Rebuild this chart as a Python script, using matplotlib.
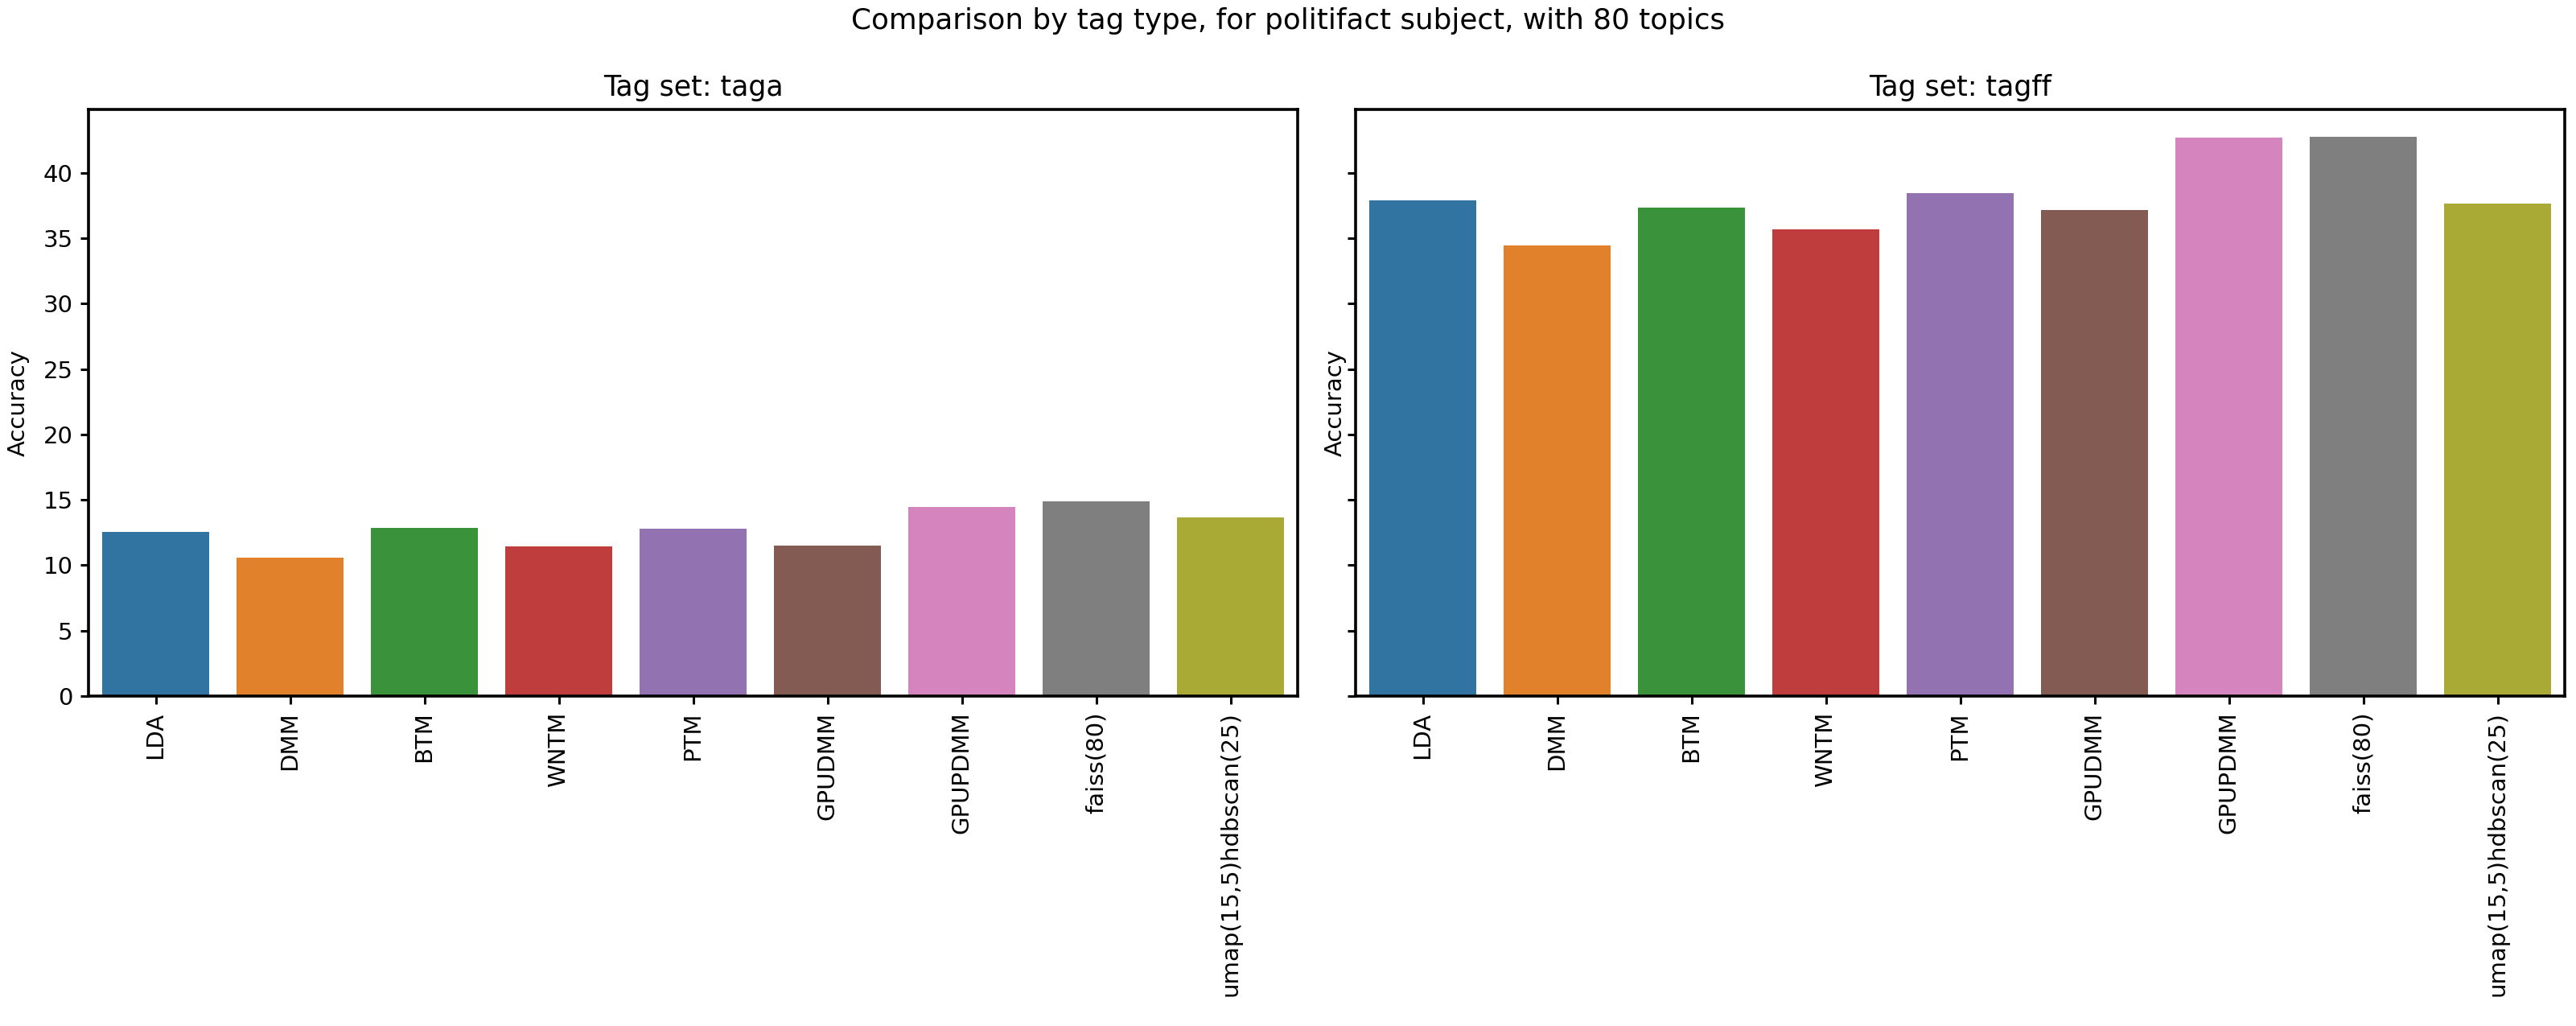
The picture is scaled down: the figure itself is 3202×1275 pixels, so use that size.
import matplotlib
matplotlib.use('Agg')
from matplotlib import pyplot as plt
import numpy as np

models = ['LDA', 'DMM', 'BTM', 'WNTM', 'PTM', 'GPUDMM', 'GPUPDMM', 'faiss(80)',
          'umap(15,5)hdbscan(25)']
acc_taga = [12.55, 10.6, 12.86, 11.45, 12.8, 11.5, 14.43, 14.86, 13.66]
acc_tagff = [37.9, 34.47, 37.35, 35.7, 38.43, 37.17, 42.66, 42.72, 37.66]
tagsets = ['taga', 'tagff']

# seaborn-style desaturated tab10
colors = ['#3274a1', '#e1812c', '#3a923a', '#c03d3e', '#9372b2',
          '#845b53', '#d684bd', '#7f7f7f', '#a9aa35']

plt.rcParams['font.size'] = 10.5
plt.rcParams['axes.linewidth'] = 1.3
plt.rcParams['xtick.major.width'] = 1.1
plt.rcParams['ytick.major.width'] = 1.1

W, H = 3202, 1275
fig = plt.figure(figsize=(W / 200, H / 200), dpi=200)
bottom = 1 - 865 / H
top = 1 - 135.7 / H
aw = 1503 / W
ax1 = fig.add_axes([110 / W, bottom, aw, top - bottom])
ax2 = fig.add_axes([1685 / W, bottom, aw, top - bottom], sharey=ax1)
axes = [ax1, ax2]

x = np.arange(len(models))
for ax, name, vals in zip(axes, tagsets, [acc_taga, acc_tagff]):
    ax.bar(x, vals, width=0.8, color=colors)
    ax.set_xticks(x)
    ax.set_xticklabels(models, rotation=90)
    ax.set_xlim(-0.5, len(models) - 0.5)
    ax.set_title('Tag set: ' + name, fontsize=12.5)
    ax.set_ylabel('Accuracy')

ax1.set_ylim(0, 44.86)
ax1.set_yticks(np.arange(0, 45, 5))
ax2.tick_params(labelleft=False)
ax1.yaxis.set_label_coords(-0.049, 0.5)
ax2.yaxis.set_label_coords(-0.0075, 0.5)

fig.suptitle('Comparison by tag type, for politifact subject, with 80 topics',
             fontsize=12.9, y=0.993)

fig.savefig('out.png', dpi=200)
